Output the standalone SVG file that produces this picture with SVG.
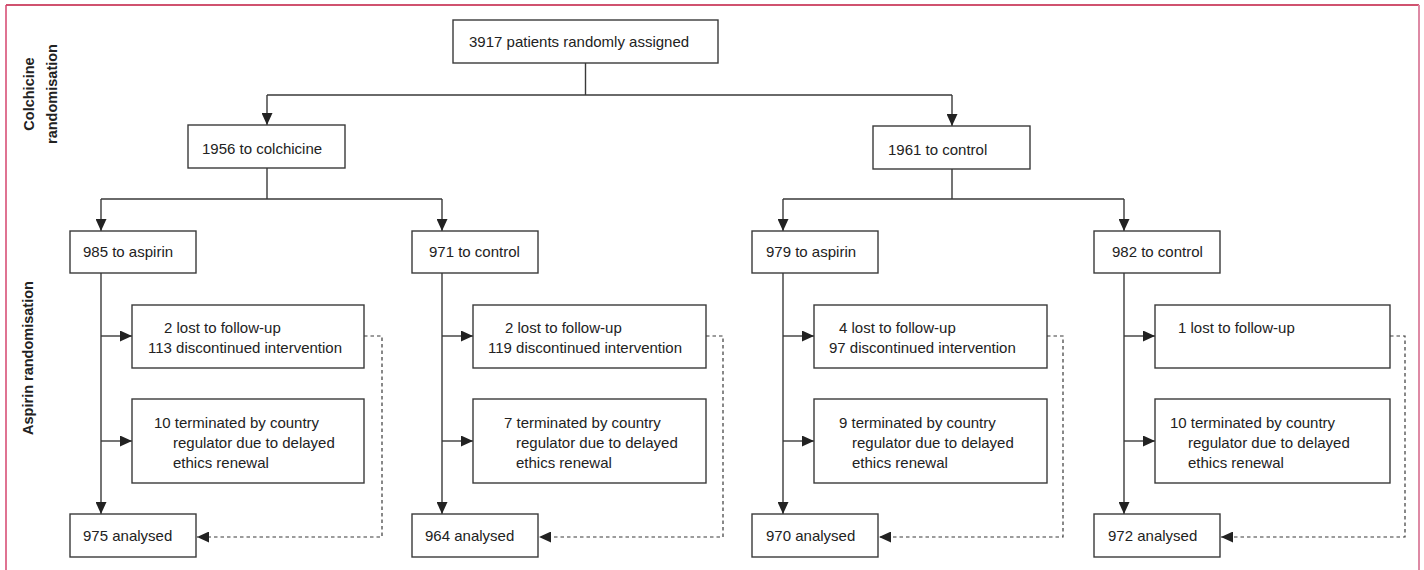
<svg xmlns="http://www.w3.org/2000/svg" width="1424" height="570" viewBox="0 0 1424 570">
<style>
.box{fill:#fff;stroke:#3a3a3a;stroke-width:1.4}
.t{font-family:"Liberation Sans",Arial,sans-serif;font-size:15px;fill:#222}
.lab{font-family:"Liberation Sans",Arial,sans-serif;font-size:14.5px;font-weight:bold;fill:#222;text-anchor:middle}
.ln{fill:none;stroke:#3a3a3a;stroke-width:1.4}
.ar{fill:none;stroke:#3a3a3a;stroke-width:1.4;marker-end:url(#ah)}
.da{fill:none;stroke:#3a3a3a;stroke-width:1.2;stroke-dasharray:3.5 3;marker-end:url(#ah)}
</style>
<defs>
<marker id="ah" markerUnits="userSpaceOnUse" markerWidth="12" markerHeight="11" refX="12" refY="5.5" orient="auto">
<path d="M0,0 L12,5.5 L0,11 z" fill="#222"/>
</marker>
</defs>
<rect x="0" y="0" width="1424" height="570" fill="#fff"/>
<g id="frame">
<line x1="6" y1="5" x2="1419" y2="5" stroke="#c0183f" stroke-width="1.5"/>
<line x1="6" y1="5" x2="6" y2="570" stroke="#d4456e" stroke-width="1.5"/>
<line x1="1419" y1="5" x2="1419" y2="570" stroke="#de8aa5" stroke-width="2"/>
</g>
<g id="labels">
<text class="lab" transform="translate(34,94) rotate(-90)">Colchicine</text>
<text class="lab" transform="translate(57,94) rotate(-90)">randomisation</text>
<text class="lab" transform="translate(33,358) rotate(-90)">Aspirin randomisation</text>
</g>
<g id="connectors">
<path class="ln" d="M585.5,63 V95 M267,95 H952"/>
<path class="ar" d="M267,95 V125"/>
<path class="ar" d="M952,95 V126"/>
<path class="ln" d="M267,168 V199 M101,199 H442"/>
<path class="ar" d="M101,199 V231"/>
<path class="ar" d="M442,199 V231"/>
<path class="ln" d="M952,169 V199 M783,199 H1124"/>
<path class="ar" d="M783,199 V231"/>
<path class="ar" d="M1124,199 V231"/>
<path class="ar" d="M101,273 V514"/>
<path class="ar" d="M101,336 H132"/>
<path class="ar" d="M101,441 H132"/>
<path class="ar" d="M442,273 V514"/>
<path class="ar" d="M442,336 H473"/>
<path class="ar" d="M442,441 H473"/>
<path class="ar" d="M783,273 V514"/>
<path class="ar" d="M783,336 H814"/>
<path class="ar" d="M783,441 H814"/>
<path class="ar" d="M1124,273 V514"/>
<path class="ar" d="M1124,336 H1155"/>
<path class="ar" d="M1124,441 H1155"/>
<path class="da" d="M364,336 H382 V537 H197"/>
<path class="da" d="M706,336 H723 V537 H539"/>
<path class="da" d="M1047,336 H1063 V537 H879"/>
<path class="da" d="M1390,336 H1405 V537 H1221"/>
</g>
<g id="n-total"><rect class="box" x="453" y="20" width="265" height="43"/><text class="t" x="469" y="47">3917 patients randomly assigned</text></g>
<g id="n-colchicine"><rect class="box" x="188" y="125" width="157" height="43"/><text class="t" x="202" y="154">1956 to colchicine</text></g>
<g id="n-control"><rect class="box" x="873" y="126" width="157" height="43"/><text class="t" x="888" y="155">1961 to control</text></g>

<g id="n-a-arm"><rect class="box" x="70" y="231" width="126" height="42"/><text class="t" x="83" y="257">985 to aspirin</text></g>
<g id="n-a-lost"><rect class="box" x="132" y="305" width="232" height="63"/><text class="t" x="164" y="333">2 lost to follow-up</text><text class="t" x="148" y="353">113 discontinued intervention</text></g>
<g id="n-a-term"><rect class="box" x="132" y="399" width="232" height="84"/><text class="t" x="154" y="428">10 terminated by country</text><text class="t" x="173" y="448">regulator due to delayed</text><text class="t" x="173" y="468">ethics renewal</text></g>
<g id="n-a-an"><rect class="box" x="70" y="514" width="126" height="43"/><text class="t" x="83" y="541">975 analysed</text></g>

<g id="n-b-arm"><rect class="box" x="412" y="231" width="126" height="42"/><text class="t" x="429" y="257">971 to control</text></g>
<g id="n-b-lost"><rect class="box" x="473" y="305" width="233" height="63"/><text class="t" x="505" y="333">2 lost to follow-up</text><text class="t" x="488" y="353">119 discontinued intervention</text></g>
<g id="n-b-term"><rect class="box" x="473" y="399" width="233" height="84"/><text class="t" x="504" y="428">7 terminated by country</text><text class="t" x="516" y="448">regulator due to delayed</text><text class="t" x="516" y="468">ethics renewal</text></g>
<g id="n-b-an"><rect class="box" x="412" y="514" width="126" height="43"/><text class="t" x="425" y="541">964 analysed</text></g>

<g id="n-c-arm"><rect class="box" x="752" y="231" width="126" height="42"/><text class="t" x="766" y="257">979 to aspirin</text></g>
<g id="n-c-lost"><rect class="box" x="814" y="305" width="233" height="63"/><text class="t" x="839" y="333">4 lost to follow-up</text><text class="t" x="829" y="353">97 discontinued intervention</text></g>
<g id="n-c-term"><rect class="box" x="814" y="399" width="233" height="84"/><text class="t" x="839" y="428">9 terminated by country</text><text class="t" x="852" y="448">regulator due to delayed</text><text class="t" x="852" y="468">ethics renewal</text></g>
<g id="n-c-an"><rect class="box" x="752" y="514" width="126" height="43"/><text class="t" x="766" y="541">970 analysed</text></g>

<g id="n-d-arm"><rect class="box" x="1094" y="231" width="126" height="42"/><text class="t" x="1112" y="257">982 to control</text></g>
<g id="n-d-lost"><rect class="box" x="1155" y="305" width="235" height="63"/><text class="t" x="1178" y="333">1 lost to follow-up</text></g>
<g id="n-d-term"><rect class="box" x="1155" y="399" width="235" height="84"/><text class="t" x="1170" y="428">10 terminated by country</text><text class="t" x="1188" y="448">regulator due to delayed</text><text class="t" x="1188" y="468">ethics renewal</text></g>
<g id="n-d-an"><rect class="box" x="1094" y="514" width="126" height="43"/><text class="t" x="1108" y="541">972 analysed</text></g>
</svg>
